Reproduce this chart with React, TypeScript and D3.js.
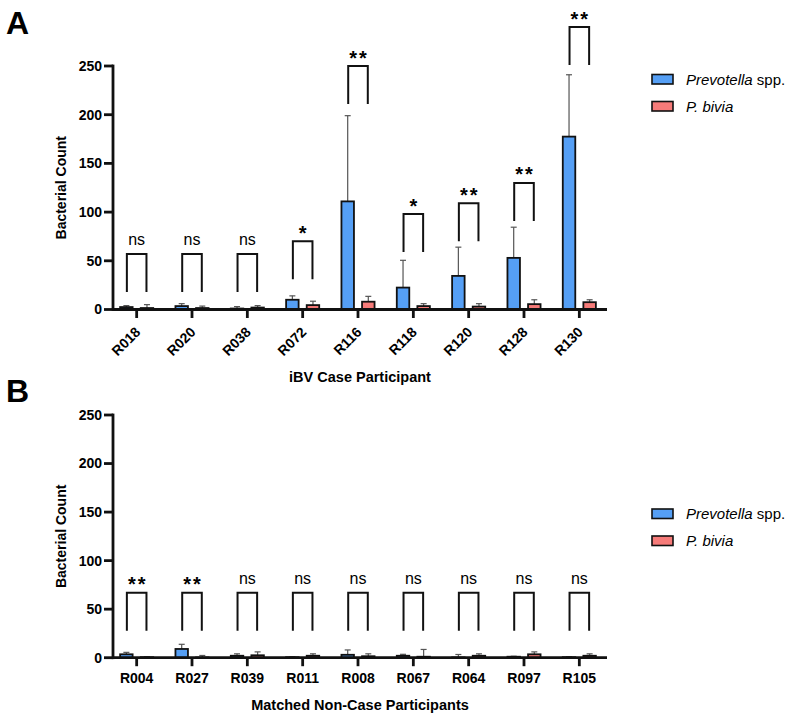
import React from 'react';
import * as d3 from 'd3';

// iBV case participants (panel A)
const caseIds = ['R018', 'R020', 'R038', 'R072', 'R116', 'R118', 'R120', 'R128', 'R130'];
const casePrevotella = [2.5, 3.5, 1, 10, 111, 22.5, 34.5, 53, 177.5];
const casePrevotellaErr = [1.5, 2.5, 2, 4, 88, 28, 29.5, 31.5, 63.5];
const caseBivia = [1.5, 1.5, 2, 4.5, 8, 3.5, 3, 5.5, 7.5];
const caseBiviaErr = [3.5, 2, 2, 4, 5.5, 2.5, 3, 4.5, 2.5];
const caseBracket = [57, 57, 57, 70, 250, 98, 109, 130, 290];
const caseSig = ['ns', 'ns', 'ns', '*', '**', '*', '**', '**', '**'];

// matched non-case participants (panel B)
const ctrlIds = ['R004', 'R027', 'R039', 'R011', 'R008', 'R067', 'R064', 'R097', 'R105'];
const ctrlPrevotella = [3.5, 9, 2, 0.5, 3, 2, 0.3, 1, 0.5];
const ctrlPrevotellaErr = [2, 4.8, 2, 0.5, 5, 1.5, 3, 0.5, 0.5];
const ctrlBivia = [0.5, 0.3, 2.5, 2, 1.5, 1, 2, 3.5, 2];
const ctrlBiviaErr = [0.5, 2, 3.5, 2, 2.5, 7.5, 2, 2.5, 2];
const ctrlBracket = [67, 67, 67, 67, 67, 67, 67, 67, 67];
const ctrlSig = ['**', '**', 'ns', 'ns', 'ns', 'ns', 'ns', 'ns', 'ns'];

const yTicks = [0, 50, 100, 150, 200, 250];

const BLUE = '#559ff5';
const RED = '#f67b79';
const FONT = '"Liberation Sans", Arial, sans-serif';

type PanelProps = {
  ids: string[];
  blue: number[];
  blueErr: number[];
  red: number[];
  redErr: number[];
  bracket: number[];
  sig: string[];
  y0: number;
  y1: number;
  letter: string;
  letterY: number;
  title: string;
  titleY: number;
  rotated: boolean;
  legendY: number;
};

function Panel(p: PanelProps) {
  const x = d3.scaleBand<string>().domain(p.ids).range([109, 607]);
  const y = d3.scaleLinear().domain([0, 250]).range([p.y0, p.y1]);
  const axisX = 113;
  const barW = 12.5;
  const off = 10.3;
  const legLen = 38;

  const bar = (cx: number, v: number, e: number, fill: string, key: string) => (
    <g key={key}>
      <line x1={cx} x2={cx} y1={y(v)} y2={y(v + e)} stroke="#555" strokeWidth={1.2} />
      <line x1={cx - 3} x2={cx + 3} y1={y(v + e)} y2={y(v + e)} stroke="#555" strokeWidth={1.2} />
      <rect x={cx - barW / 2} y={y(v)} width={barW} height={y(0) - y(v)} fill={fill} stroke="#111" strokeWidth={1.8} />
    </g>
  );

  return (
    <g fontFamily={FONT}>
      <text x={6} y={p.letterY} fontSize={32} fontWeight="bold">{p.letter}</text>

      {/* bars */}
      {p.ids.map((id, i) => {
        const c = (x(id) as number) + x.bandwidth() / 2;
        return (
          <g key={id}>
            {bar(c - off, p.blue[i], p.blueErr[i], BLUE, 'b')}
            {bar(c + off, p.red[i], p.redErr[i], RED, 'r')}
          </g>
        );
      })}

      {/* significance brackets */}
      {p.ids.map((id, i) => {
        const c = (x(id) as number) + x.bandwidth() / 2;
        const top = y(p.bracket[i]);
        const l = c - off + 0.5;
        const r = c + off - 0.5;
        const isStar = p.sig[i] !== 'ns';
        return (
          <g key={'s' + id}>
            <path d={`M${l},${top + legLen}V${top}H${r}V${top + legLen}`} fill="none" stroke="#111" strokeWidth={2} />
            {isStar ? (
              <text x={c + 1} y={top - 1.5} textAnchor="middle" fontSize={20} fontWeight="bold" letterSpacing={2}>{p.sig[i]}</text>
            ) : (
              <text x={c} y={top - 9} textAnchor="middle" fontSize={16}>{p.sig[i]}</text>
            )}
          </g>
        );
      })}

      {/* y axis */}
      <line x1={axisX} x2={axisX} y1={y(250) - 1.4} y2={y(0) + 1.4} stroke="#111" strokeWidth={2.8} />
      {yTicks.map(t => (
        <g key={t}>
          <line x1={axisX - 9} x2={axisX} y1={y(t)} y2={y(t)} stroke="#111" strokeWidth={2.8} />
          <text x={102} y={y(t)} dy="0.35em" textAnchor="end" fontSize={14} fontWeight="bold">{t}</text>
        </g>
      ))}
      <text transform={`translate(66,${(y(0) + y(250)) / 2}) rotate(-90)`} textAnchor="middle" fontSize={14} fontWeight="bold">Bacterial Count</text>

      {/* x axis */}
      <line x1={axisX} x2={607} y1={y(0)} y2={y(0)} stroke="#111" strokeWidth={2.8} />
      {p.ids.map(id => {
        const c = (x(id) as number) + x.bandwidth() / 2;
        return (
          <g key={'t' + id}>
            <line x1={c} x2={c} y1={y(0)} y2={y(0) + 8.5} stroke="#111" strokeWidth={2.8} />
            {p.rotated ? (
              <text transform={`translate(${c + 4.5},${y(0) + 23.5}) rotate(-45)`} textAnchor="end" fontSize={14} fontWeight="bold">{id}</text>
            ) : (
              <text x={c} y={y(0) + 25.5} textAnchor="middle" fontSize={14} fontWeight="bold">{id}</text>
            )}
          </g>
        );
      })}
      <text x={360} y={p.titleY} textAnchor="middle" fontSize={14.5} fontWeight="bold">{p.title}</text>

      {/* legend */}
      <g transform={`translate(652,${p.legendY})`}>
        <rect x={0} y={-5} width={21} height={9.5} fill={BLUE} stroke="#111" strokeWidth={1.6} />
        <text x={34} y={0} dy="0.35em" fontSize={15}>
          <tspan fontStyle="italic">Prevotella</tspan> spp.
        </text>
        <rect x={0} y={22} width={21} height={9.5} fill={RED} stroke="#111" strokeWidth={1.6} />
        <text x={34} y={27} dy="0.35em" fontSize={15} fontStyle="italic">P. bivia</text>
      </g>
    </g>
  );
}

export default function App() {
  return (
    <div style={{ position: 'absolute', left: 0, top: 0 }}>
      <svg width={800} height={717} style={{ display: 'block', background: '#fff' }}>
        <Panel
          ids={caseIds} blue={casePrevotella} blueErr={casePrevotellaErr}
          red={caseBivia} redErr={caseBiviaErr} bracket={caseBracket} sig={caseSig}
          y0={309.5} y1={66} letter="A" letterY={34} title="iBV Case Participant" titleY={382}
          rotated={true} legendY={79.5}
        />
        <Panel
          ids={ctrlIds} blue={ctrlPrevotella} blueErr={ctrlPrevotellaErr}
          red={ctrlBivia} redErr={ctrlBiviaErr} bracket={ctrlBracket} sig={ctrlSig}
          y0={657.7} y1={415} letter="B" letterY={402} title="Matched Non-Case Participants" titleY={710}
          rotated={false} legendY={514}
        />
      </svg>
    </div>
  );
}
